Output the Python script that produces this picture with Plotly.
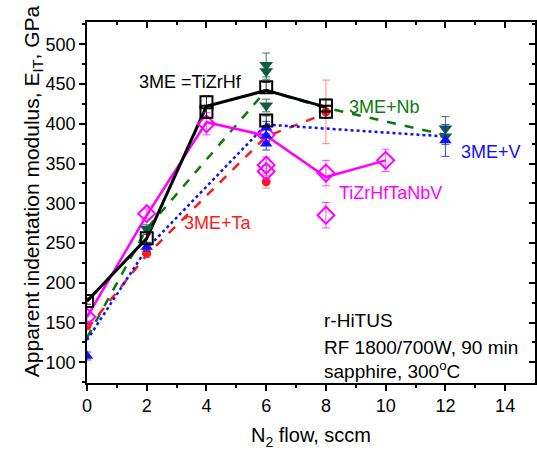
import plotly.graph_objects as go

# N2 flow (sccm) and apparent indentation modulus (GPa)
# Individual measurements (markers with error bars)
tizrhf_x = [0, 2, 4, 4, 6, 6, 8, 8]
tizrhf_y = [177, 256, 427, 415, 446, 404, 423, 415]
tizrhf_err = [4, 5, 8, 8, 6, 6, 8, 8]

nb_x = [2, 6, 6, 6, 12, 12]
nb_y = [268, 474, 466, 423, 394, 384]
nb_err = [5, 15, 10, 8, 15, 10]

ta_x = [0, 2, 6, 8]
ta_y = [146, 237, 327, 415]
ta_err = [5, 5, 8, 40]

v_x = [0, 2, 6, 6, 6, 12]
v_y = [108, 245, 395, 385, 375, 379]
v_err = [5, 5, 8, 8, 8, 20]

hea_x = [0, 2, 4, 6, 6, 6, 8, 8, 10]
hea_y = [157, 287, 400, 386, 348, 340, 338, 285, 354]
hea_err = [5, 6, 14, 10, 10, 8, 16, 16, 14]

# Trend lines through the series
tizrhf_lx = [0, 2, 4, 6, 8]
tizrhf_ly = [177, 256, 422, 442, 421]
nb_lx = [0, 2, 6, 8, 12]
nb_ly = [131, 268, 442, 420, 386]
ta_lx = [0, 2, 6, 8]
ta_ly = [142, 235, 384, 413]
v_lx = [0, 2, 6, 12]
v_ly = [128, 243, 399, 384]
hea_lx = [0, 2, 4, 6, 8, 10]
hea_ly = [157, 285, 402, 385, 333, 354]

# Axis ticks
x_major = [0, 2, 4, 6, 8, 10, 12, 14]
x_minor = [1, 3, 5, 7, 9, 11, 13]
y_major = [100, 150, 200, 250, 300, 350, 400, 450, 500]
y_minor = [75, 125, 175, 225, 275, 325, 375, 425, 475, 525]

FONT = "Liberation Sans, Arial, sans-serif"
GREEN, RED, BLUE, MAGENTA = "#0a7a0a", "#ff1a1a", "#1010ff", "#ff00ff"

fig = go.Figure()

# lines
fig.add_trace(go.Scatter(x=nb_lx, y=nb_ly, mode="lines",
                         line=dict(color=GREEN, width=2.5, dash="dash")))
fig.add_trace(go.Scatter(x=ta_lx, y=ta_ly, mode="lines",
                         line=dict(color=RED, width=2.5, dash="dash")))
fig.add_trace(go.Scatter(x=v_lx, y=v_ly, mode="lines",
                         line=dict(color=BLUE, width=2.5, dash="dot")))
fig.add_trace(go.Scatter(x=hea_lx, y=hea_ly, mode="lines",
                         line=dict(color=MAGENTA, width=2.5)))
fig.add_trace(go.Scatter(x=tizrhf_lx, y=tizrhf_ly, mode="lines",
                         line=dict(color="black", width=3)))


def err(vals, color):
    return dict(type="data", array=vals, visible=True, color=color,
                thickness=1, width=4)


# markers
fig.add_trace(go.Scatter(x=ta_x, y=ta_y, mode="markers",
                         marker=dict(symbol="circle", size=9, color=RED),
                         error_y=err(ta_err, "rgba(255,60,60,0.6)")))
fig.add_trace(go.Scatter(x=hea_x, y=hea_y, mode="markers",
                         marker=dict(symbol="diamond-open", size=13, color=MAGENTA,
                                     line=dict(width=2)),
                         error_y=err(hea_err, "rgba(255,0,255,0.7)")))
fig.add_trace(go.Scatter(x=nb_x, y=nb_y, mode="markers",
                         marker=dict(symbol="triangle-down", size=12, color="#0f5c45"),
                         error_y=err(nb_err, "rgba(15,92,69,0.8)")))
fig.add_trace(go.Scatter(x=v_x, y=v_y, mode="markers",
                         marker=dict(symbol="triangle-up", size=11, color=BLUE),
                         error_y=err(v_err, "rgba(16,16,255,0.8)")))
fig.add_trace(go.Scatter(x=tizrhf_x, y=tizrhf_y, mode="markers",
                         marker=dict(symbol="square-open", size=12, color="black",
                                     line=dict(width=2)),
                         error_y=err(tizrhf_err, "rgba(0,0,0,0.8)")))

# series labels
labels = [
    (1.67, 452, "3ME =TiZrHf", "black"),
    (8.7, 421, "3ME+Nb", GREEN),
    (12.45, 364, "3ME+V", BLUE),
    (8.37, 313, "TiZrHfTaNbV", MAGENTA),
    (3.18, 275, "3ME+Ta", RED),
]
for x, y, t, c in labels:
    fig.add_annotation(x=x, y=y, xref="x", yref="y", text=t, showarrow=False,
                       xanchor="left", font=dict(family=FONT, size=18, color=c))

# deposition conditions
cond = ["r-HiTUS", "RF 1800/700W, 90 min", "sapphire, 300<sup>o</sup>C"]
cond_y = [153, 119, 90]
for t, y in zip(cond, cond_y):
    fig.add_annotation(x=7.87, y=y, xref="x", yref="y", text=t, showarrow=False,
                       xanchor="left", font=dict(family=FONT, size=19, color="black"))

# y-axis title
fig.add_annotation(x=-0.155, y=0.53, xref="paper", yref="paper",
                   text="Apparent indentation modulus, E<sub>IT</sub>, GPa",
                   textangle=-90, showarrow=False,
                   font=dict(family=FONT, size=21, color="black"))

axis_common = dict(showline=True, linecolor="black", linewidth=1.5,
                   showgrid=False, zeroline=False, ticklen=6, tickwidth=1.5,
                   tickcolor="black")

fig.update_layout(
    width=537, height=450,
    margin=dict(l=87, r=2, t=22, b=67),
    paper_bgcolor="white", plot_bgcolor="white",
    showlegend=False,
    font=dict(family=FONT, color="black"),
    xaxis=dict(range=[0, 15], tickmode="array", tickvals=x_major,
               ticks="outside", tickfont=dict(size=18),
               minor=dict(tickvals=x_minor, ticklen=3, ticks="outside",
                          tickcolor="black", tickwidth=1.5),
               title=dict(text="N<sub>2</sub> flow, sccm", font=dict(size=20), standoff=13),
               **axis_common),
    yaxis=dict(range=[74, 528], tickmode="array", tickvals=y_major,
               ticks="outside", tickfont=dict(size=18),
               minor=dict(tickvals=y_minor, ticklen=3, ticks="outside",
                          tickcolor="black", tickwidth=1.5),
               **axis_common),
    xaxis2=dict(overlaying="x", side="top", matches="x", range=[0, 15],
                tickmode="array", tickvals=x_major,
                ticks="inside", showticklabels=False,
                minor=dict(tickvals=x_minor, ticklen=3, ticks="inside",
                           tickcolor="black", tickwidth=1.5),
                **axis_common),
    yaxis2=dict(overlaying="y", side="right", matches="y", range=[74, 528],
                tickmode="array", tickvals=y_major,
                ticks="inside", showticklabels=False,
                minor=dict(tickvals=y_minor, ticklen=3, ticks="inside",
                           tickcolor="black", tickwidth=1.5),
                **axis_common),
)

# invisible trace to activate the mirrored frame axes
fig.add_trace(go.Scatter(x=[0], y=[100], xaxis="x2", yaxis="y2", mode="markers",
                         marker=dict(opacity=0), hoverinfo="skip"))

fig.write_html("out.html")
